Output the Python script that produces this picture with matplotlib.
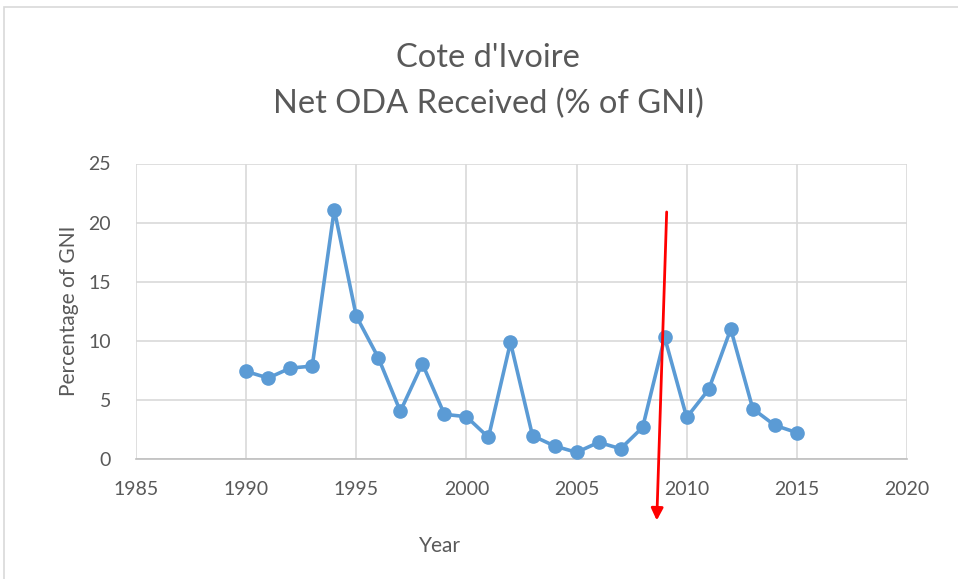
import matplotlib
matplotlib.use("Agg")
import matplotlib.pyplot as plt
from matplotlib.patches import Rectangle

years = [1990, 1991, 1992, 1993, 1994, 1995, 1996, 1997, 1998, 1999,
         2000, 2001, 2002, 2003, 2004, 2005, 2006, 2007, 2008, 2009,
         2010, 2011, 2012, 2013, 2014, 2015]
oda_pct = [7.41, 6.85, 7.69, 7.86, 21.1, 12.09, 8.57, 4.03, 8.06, 3.78,
           3.58, 1.83, 9.86, 1.97, 1.10, 0.56, 1.41, 0.87, 2.68, 10.28,
           3.52, 5.89, 10.99, 4.25, 2.85, 2.23]
x_ticks = [1985, 1990, 1995, 2000, 2005, 2010, 2015, 2020]
y_ticks = [0, 5, 10, 15, 20, 25]
arrow_start = (2009.09, 20.9)
arrow_end = (2008.64, -5.2)

plt.rcParams['font.family'] = ['Lato', 'DejaVu Sans']
txt = '#595959'

fig = plt.figure(figsize=(9.58, 5.79), dpi=100)
fig.patches.append(Rectangle((4 / 958, -0.01), 1.02, (579 - 7) / 579 + 0.01,
                             transform=fig.transFigure, fill=False,
                             edgecolor='#d9d9d9', linewidth=1.2))
ax = fig.add_axes([136 / 958, 1 - 459 / 579, (907 - 136) / 958, (459 - 163.5) / 579])

ax.plot(years, oda_pct, color='#5b9bd5', linewidth=2.6, marker='o',
        markersize=9.5, zorder=3)

ax.set_xlim(1985, 2020)
ax.set_ylim(0, 25)
ax.set_xticks(x_ticks)
ax.set_yticks(y_ticks)
ax.grid(True, color='#d9d9d9', linewidth=1.2)
ax.set_axisbelow(True)
for s in ['top', 'right', 'left']:
    ax.spines[s].set_visible(False)
ax.spines['bottom'].set_color('#bfbfbf')
ax.spines['bottom'].set_linewidth(1.2)
ax.tick_params(length=0, labelsize=14, colors=txt)
ax.tick_params(axis='x', pad=16)
ax.tick_params(axis='y', pad=18)

ax.set_xlabel('Year', fontsize=15, color=txt)
ax.xaxis.set_label_coords((440 - 136) / (907 - 136), -0.26)
ax.set_ylabel('Percentage of GNI', fontsize=15, color=txt, labelpad=7)

fig.text(488 / 958, 1 - 58 / 579, "Cote d'Ivoire", ha='center', va='center',
         fontsize=23.5, color=txt)
fig.text(488 / 958, 1 - 104 / 579, "Net ODA Received (% of GNI)", ha='center',
         va='center', fontsize=23.5, color=txt)

ax.annotate('', xy=arrow_end, xytext=arrow_start, annotation_clip=False,
            arrowprops=dict(arrowstyle='-|>', color='#ff0000', lw=2,
                            mutation_scale=18, shrinkA=0, shrinkB=0),
            zorder=5)

fig.savefig('out.png', dpi=100)
